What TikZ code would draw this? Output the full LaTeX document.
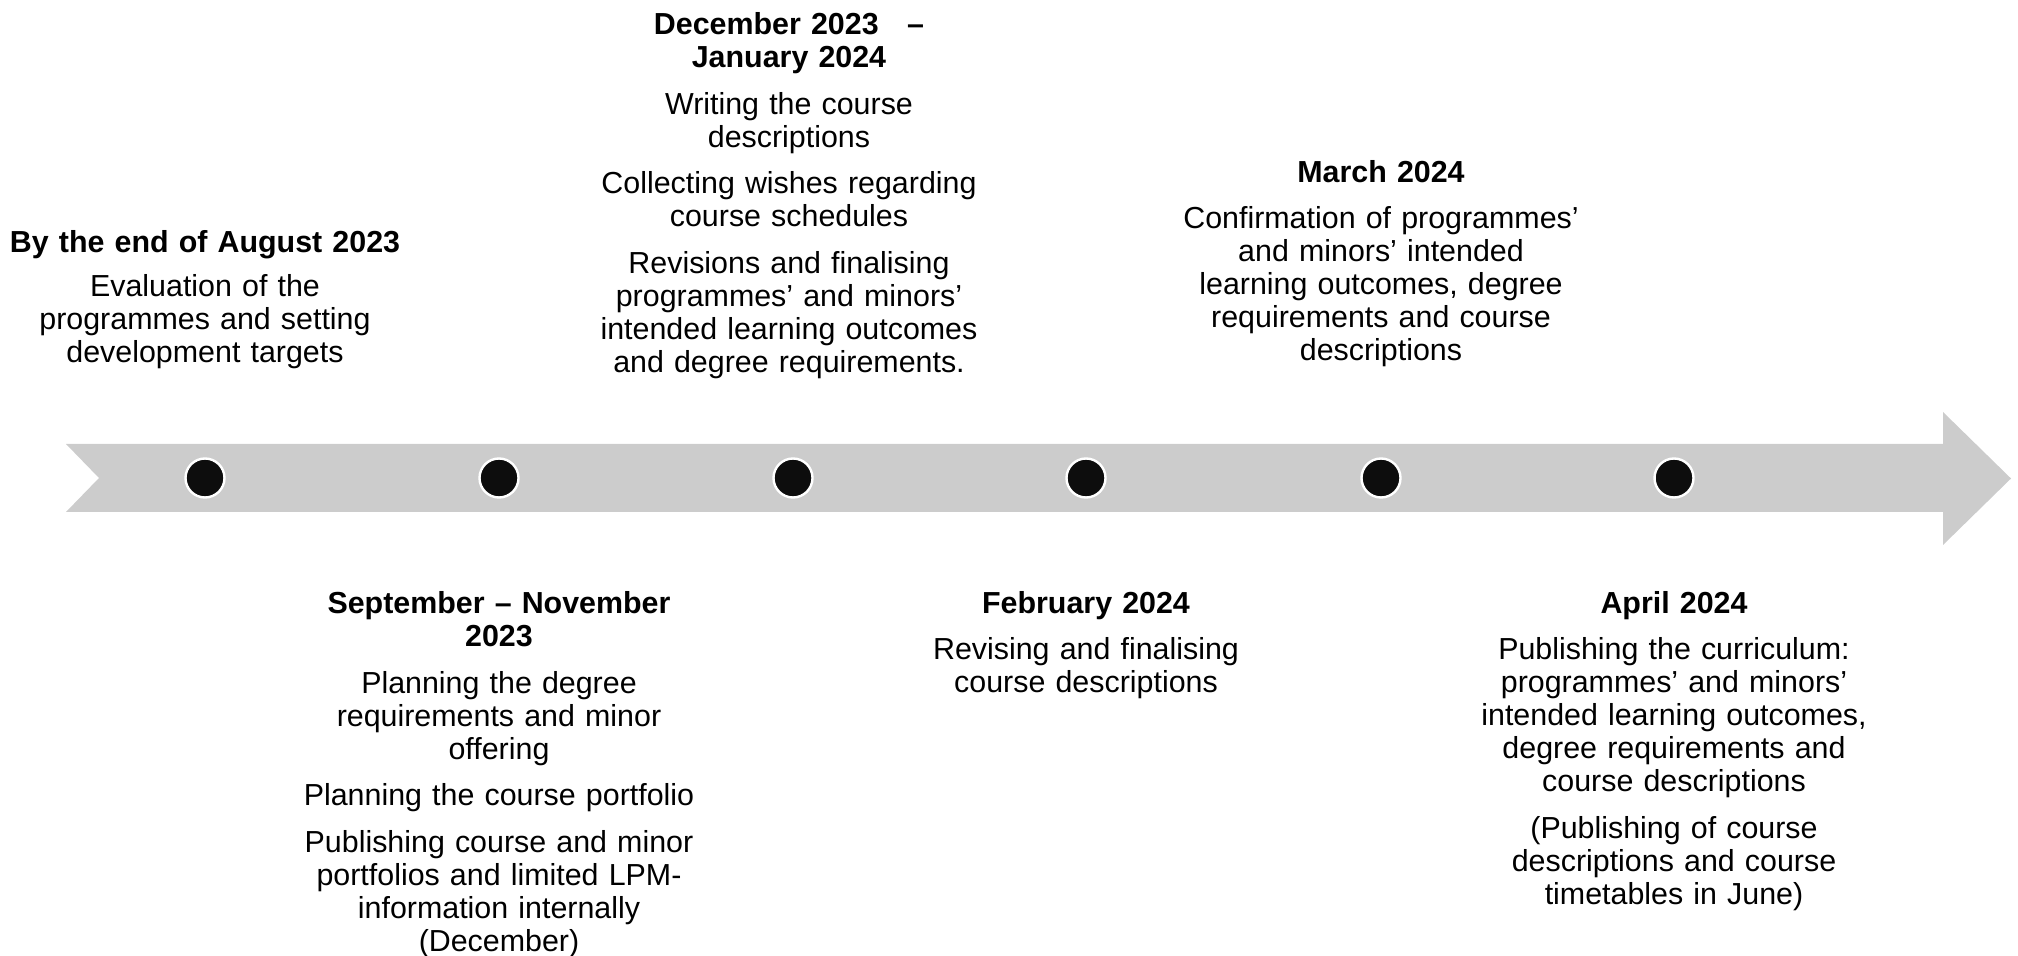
\documentclass[tikz,border=0pt]{standalone}
\usepackage{fontspec}
\setmainfont{Liberation Sans}
\definecolor{arrowgray}{HTML}{CCCCCC}
\definecolor{dotblack}{HTML}{0D0D0D}
\begin{document}
\begin{tikzpicture}[x=0.5pt,y=-0.5pt,
  txt/.style={text width=240pt, align=center, inner sep=0pt, anchor=north,
    font=\fontsize{15.2pt}{16.5pt}\selectfont},
  dot/.style={circle, fill=dotblack, draw=white, line width=1.2pt,
    minimum size=19.5pt, inner sep=0pt}]
\useasboundingbox (0,0) rectangle (2018,956);
% timeline arrow
\fill[arrowgray] (66,444) -- (1943,444) -- (1943,412) -- (2011,478.5)
  -- (1943,545) -- (1943,512) -- (66,512) -- (99,478) -- cycle;
% milestones
\node[dot] (d1) at (205,478) {};
\node[dot] (d2) at (499,478) {};
\node[dot] (d3) at (793,478) {};
\node[dot] (d4) at (1086,478) {};
\node[dot] (d5) at (1381,478) {};
\node[dot] (d6) at (1674,478) {};
% texts above
\node[txt] (t1) at (205,230) {\textbf{By the end of August 2023}\\[5.5pt]
  Evaluation of the\\ programmes and setting\\ development targets};
\node[txt] (t3) at (789,12) {\textbf{December 2023\hspace{0.6em} –}\\ \textbf{January 2024}\\[6.8pt]
  Writing the course\\ descriptions\\[6.8pt]
  Collecting wishes regarding\\ course schedules\\[6.8pt]
  Revisions and finalising\\ programmes’ and minors’\\ intended learning outcomes\\ and degree requirements.};
\node[txt] (t5) at (1381,160) {\textbf{March 2024}\\[6.5pt]
  Confirmation of programmes’\\ and minors’ intended\\ learning outcomes, degree\\ requirements and course\\ descriptions};
% texts below
\node[txt] (t2) at (499,591) {\textbf{September – November}\\ \textbf{2023}\\[6.8pt]
  Planning the degree\\ requirements and minor\\ offering\\[6.8pt]
  Planning the course portfolio\\[6.8pt]
  Publishing course and minor\\ portfolios and limited LPM-\\ information internally\\ (December)};
\node[txt] (t4) at (1086,591) {\textbf{February 2024}\\[6.5pt]
  Revising and finalising\\ course descriptions};
\node[txt] (t6) at (1674,591) {\textbf{April 2024}\\[6.5pt]
  Publishing the curriculum:\\ programmes’ and minors’\\ intended learning outcomes,\\ degree requirements and\\ course descriptions\\[6.8pt]
  (Publishing of course\\ descriptions and course\\ timetables in June)};
\end{tikzpicture}
\end{document}
